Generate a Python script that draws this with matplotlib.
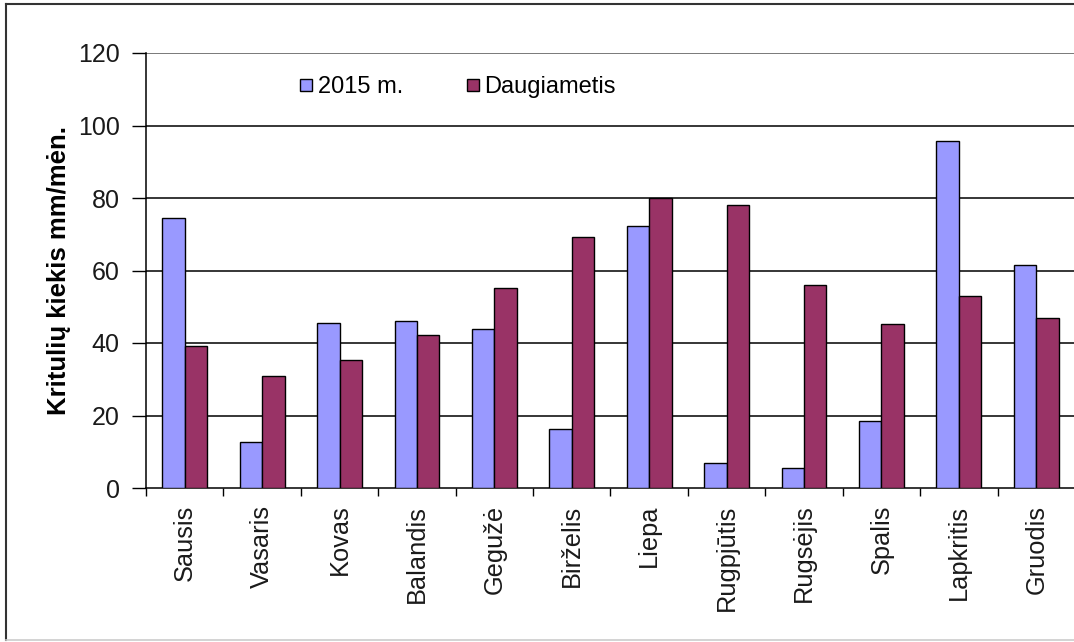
import matplotlib
matplotlib.use("Agg")
import matplotlib.pyplot as plt
from matplotlib.lines import Line2D
import numpy as np

months = ["Sausis", "Vasaris", "Kovas", "Balandis", "Gegužė", "Birželis",
          "Liepa", "Rugpjūtis", "Rugsėjis", "Spalis", "Lapkritis", "Gruodis"]
y2015 = [74.4, 12.8, 45.5, 46.0, 43.9, 16.3, 72.2, 6.8, 5.6, 18.5, 95.6, 61.5]
multi = [39.3, 30.8, 35.2, 42.1, 55.1, 69.3, 80.0, 78.0, 55.9, 45.2, 52.9, 47.0]
series_names = ["2015 m.", "Daugiametis"]
yticks = [0, 20, 40, 60, 80, 100, 120]
ylabel = "Kritulių kiekis mm/mėn."

plt.rcParams['font.family'] = ['Liberation Sans', 'DejaVu Sans']

W, H = 1074, 642
fig = plt.figure(figsize=(W / 100, H / 100), dpi=100)
left, right, top, bottom = 146, 1075, 53, 488
ax = fig.add_axes([left / W, 1 - bottom / H, (right - left) / W, (bottom - top) / H])

x = np.arange(len(months))
bw = 0.29
c1, c2 = "#9999FF", "#993366"
ax.bar(x - bw / 2, y2015, bw, color=c1, edgecolor="black", linewidth=1.0, zorder=3, label=series_names[0])
ax.bar(x + bw / 2, multi, bw, color=c2, edgecolor="black", linewidth=1.0, zorder=3, label=series_names[1])

ax.set_xlim(-0.5, len(months) - 0.5)
ax.set_ylim(0, 120)
ax.set_yticks(yticks)
ax.set_yticklabels([str(v) for v in yticks], fontsize=18, color="#1a1a1a")
ax.tick_params(axis='y', direction='out', length=10, width=1, pad=9)
ax.set_xticks(x)
ax.set_xticklabels(months, rotation=90, fontsize=18.3, color="#1a1a1a")
ax.tick_params(axis='x', which='major', length=0, pad=12)
ax.set_xticks(np.arange(-0.5, len(months) - 0.4, 1.0), minor=True)
ax.tick_params(axis='x', which='minor', direction='out', length=6, width=1)

for v in yticks[1:]:
    ax.axhline(v, color="black" if v < 120 else "#555555", linewidth=1.1, zorder=1)

for s in ["top", "right"]:
    ax.spines[s].set_visible(False)
ax.spines["left"].set_linewidth(1.1)
ax.spines["bottom"].set_linewidth(1.1)

ax.set_ylabel(ylabel, fontsize=18.5, fontweight="bold")
ax.yaxis.set_label_coords(-0.081, 0.5)

h1 = Line2D([], [], marker="s", linestyle="none", markersize=8, markerfacecolor=c1, markeredgecolor="black")
h2 = Line2D([], [], marker="s", linestyle="none", markersize=8, markerfacecolor=c2, markeredgecolor="black")
leg = ax.legend([h1, h2], series_names, loc="center left", bbox_to_anchor=((298 - left) / (right - left), 1 - (87 - top) / (bottom - top)),
                ncol=2, frameon=False, fontsize=17, handlelength=0.7, handletextpad=0.15,
                columnspacing=2.58, borderpad=0, borderaxespad=0)

# outer frame
fig.add_artist(Line2D([5.5 / W, 5.5 / W], [1 - 4 / H, 1 - 640 / H], color="#333333", linewidth=1.5, transform=fig.transFigure))
fig.add_artist(Line2D([5.5 / W, 1.0], [1 - 4 / H, 1 - 4 / H], color="#333333", linewidth=1.5, transform=fig.transFigure))
fig.add_artist(Line2D([5.5 / W, 1.0], [1 - 640 / H, 1 - 640 / H], color="#cccccc", linewidth=1.2, transform=fig.transFigure))

fig.savefig("out.png", dpi=100, facecolor="white")
